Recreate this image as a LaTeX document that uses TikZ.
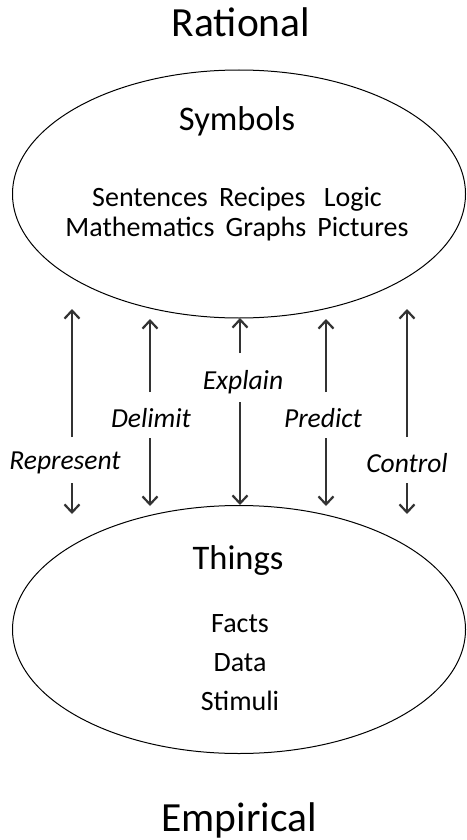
\documentclass[tikz,border=0pt]{standalone}
\usepackage{fontspec}
\setmainfont{Carlito}
\usetikzlibrary{arrows.meta,shapes.geometric}
\begin{document}
\begin{tikzpicture}[x=1pt,y=-1pt,
  ell/.style={draw, line width=1pt, ellipse, inner sep=0pt, minimum width=453pt, minimum height=248pt},
  big/.style={anchor=base, inner sep=0pt, font=\fontsize{41.5}{48}\selectfont},
  head/.style={anchor=base, inner sep=0pt, font=\fontsize{34.5}{40}\selectfont},
  body/.style={anchor=base, inner sep=0pt, font=\fontsize{28}{33}\selectfont},
  lab/.style={inner sep=0pt, font=\fontsize{27.5}{32}\selectfont\itshape},
  arr/.style={line width=2pt, draw={black!80}, -{Straight Barb[length=8pt,width=15pt,line width=2.2pt]}}]
\useasboundingbox (0,0) rectangle (466,840);
\fill[white] (0,0) rectangle (466,840);
% ellipses
\node[ell] (sym) at (239,194) {};
\node[ell] (thg) at (239,629.5) {};
% titles
\node[big] (rat) at (241,37) {Rational};
\node[big] (emp) at (239,831) {Empirical};
% top ellipse text
\node[head] (symt) at (237,131) {Symbols};
\node[body] (l1) at (237,206) {Sentences\hspace{0.4em}Recipes\hspace{0.65em}Logic};
\node[body] (l2) at (237,236) {Mathematics\hspace{0.4em}Graphs\hspace{0.4em}Pictures};
% bottom ellipse text
\node[head] (thgt) at (238,569) {Things};
\node[body] (f1) at (240,632) {Facts};
\node[body] (f2) at (240,671) {Data};
\node[body] (f3) at (240,710) {Stimuli};
% labels
\node[lab] (rep) at (65,463) {Represent};
\node[lab] (del) at (151,418) {Delimit};
\node[lab] (exp) at (243,382) {Explain};
\node[lab] (pre) at (323,418) {Predict};
\node[lab] (con) at (407,463) {Control};
% arrow coordinates
\coordinate (r1) at (72,437); \coordinate (r2) at (72,309);
\coordinate (r3) at (72,483); \coordinate (r4) at (72,514);
\coordinate (d1) at (150,392); \coordinate (d2) at (150,319);
\coordinate (d3) at (150,438); \coordinate (d4) at (150,506);
\coordinate (e1) at (240,353); \coordinate (e2) at (240,318);
\coordinate (e3) at (240,402); \coordinate (e4) at (240,505);
\coordinate (p1) at (326,392); \coordinate (p2) at (326,319);
\coordinate (p3) at (326,438); \coordinate (p4) at (326,506);
\coordinate (c1) at (407,437); \coordinate (c2) at (407,309);
\coordinate (c3) at (407,483); \coordinate (c4) at (407,514);
\draw[arr] (r1) -- (r2); \draw[arr] (r3) -- (r4);
\draw[arr] (d1) -- (d2); \draw[arr] (d3) -- (d4);
\draw[arr] (e1) -- (e2); \draw[arr] (e3) -- (e4);
\draw[arr] (p1) -- (p2); \draw[arr] (p3) -- (p4);
\draw[arr] (c1) -- (c2); \draw[arr] (c3) -- (c4);
\end{tikzpicture}
\end{document}
